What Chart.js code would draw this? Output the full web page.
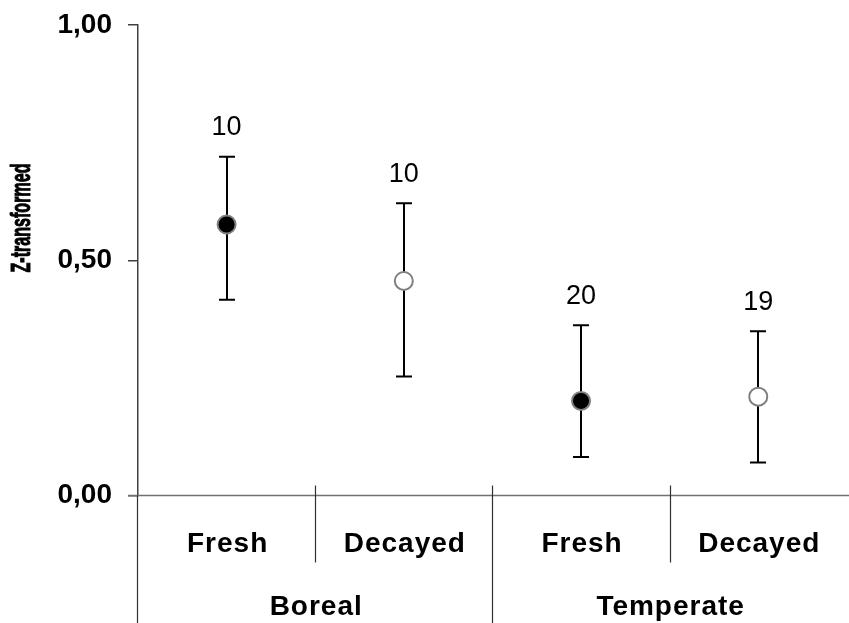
<!DOCTYPE html>
<html>
<head>
<meta charset="utf-8">
<script src="https://cdn.jsdelivr.net/npm/chart.js@4"></script>
<style>
  body { margin: 0; background: #fff; }
  #wrap { width: 849px; height: 623px; }
</style>
</head>
<body>
<div id="wrap"><canvas id="chart"></canvas></div>
<script>
// data
const categories = ["Fresh", "Decayed", "Fresh", "Decayed"];
const groups = ["Boreal", "Temperate"];
const means = [0.576, 0.456, 0.201, 0.210];
const upper = [0.720, 0.621, 0.362, 0.349];
const lower = [0.416, 0.253, 0.082, 0.070];
const nValues = [10, 10, 20, 19];
const yTicks = [0, 0.5, 1];
const yTitle = "Z-transformed";

const FONT = "'Liberation Sans', Arial, sans-serif";
const fills = ["#000000", "#ffffff", "#000000", "#ffffff"];

// error bars + labels + category axis drawn by hand
const extras = {
  id: "extras",
  afterDatasetsDraw(chart) {
    const ctx = chart.ctx;
    const xs = chart.scales.x, ys = chart.scales.y;
    const y0 = ys.getPixelForValue(0);
    const H = chart.height, W = chart.width;
    ctx.save();

    // zero line
    ctx.strokeStyle = "#707070";
    ctx.lineWidth = 1.5;
    ctx.beginPath();
    ctx.moveTo(xs.getPixelForValue(-0.5) - 10, y0);
    ctx.lineTo(W, y0);
    ctx.stroke();

    // separators
    ctx.strokeStyle = "#303030";
    ctx.lineWidth = 1.2;
    [0.5, 2.5].forEach(v => {
      const x = Math.round(xs.getPixelForValue(v)) + 0.5;
      ctx.beginPath(); ctx.moveTo(x, y0 - 10); ctx.lineTo(x, y0 + 67); ctx.stroke();
    });
    let xg = Math.round(xs.getPixelForValue(1.5)) + 0.5;
    ctx.beginPath(); ctx.moveTo(xg, y0 - 10); ctx.lineTo(xg, H); ctx.stroke();
    let xa = Math.round(xs.getPixelForValue(-0.5)) - 0.5;
    ctx.beginPath(); ctx.moveTo(xa, y0); ctx.lineTo(xa, H); ctx.stroke();

    // category labels
    ctx.fillStyle = "#000";
    ctx.textAlign = "center";
    ctx.textBaseline = "middle";
    ctx.font = "bold 28px " + FONT;
    ctx.letterSpacing = "1px";
    categories.forEach((c, i) => {
      ctx.fillText(c, xs.getPixelForValue(i) + 1, y0 + 49);
    });
    groups.forEach((g, i) => {
      ctx.fillText(g, xs.getPixelForValue(i * 2 + 0.5) + 1, y0 + 112);
    });

    // n labels
    ctx.font = "27px " + FONT;
    ctx.letterSpacing = "0px";
    nValues.forEach((n, i) => {
      ctx.fillText(String(n), xs.getPixelForValue(i), ys.getPixelForValue(upper[i]) - 29);
    });

    // y title, condensed along its length
    ctx.translate(22, 218);
    ctx.rotate(-Math.PI / 2);
    ctx.scale(0.575, 1);
    ctx.font = "bold 28px " + FONT;
    ctx.fillText(yTitle, 0, 0);
    ctx.strokeStyle = "#000";
    ctx.lineWidth = 1;
    ctx.strokeText(yTitle, 0, 0);
    ctx.restore();
  },
  beforeDatasetsDraw(chart) {
    const ctx = chart.ctx;
    const xs = chart.scales.x, ys = chart.scales.y;
    ctx.save();
    ctx.strokeStyle = "#000";
    ctx.lineWidth = 2;
    means.forEach((m, i) => {
      const x = Math.round(xs.getPixelForValue(i));
      const yt = ys.getPixelForValue(upper[i]);
      const yb = ys.getPixelForValue(lower[i]);
      ctx.beginPath();
      ctx.moveTo(x, yt); ctx.lineTo(x, yb);
      ctx.moveTo(x - 8, yt); ctx.lineTo(x + 8, yt);
      ctx.moveTo(x - 8, yb); ctx.lineTo(x + 8, yb);
      ctx.stroke();
    });
    ctx.restore();
  }
};

new Chart(document.getElementById("chart"), {
  type: "scatter",
  data: {
    datasets: [{
      data: means.map((m, i) => ({ x: i, y: m })),
      pointRadius: 9,
      pointHoverRadius: 9,
      pointBackgroundColor: fills,
      pointBorderColor: "#808080",
      pointBorderWidth: 2
    }]
  },
  options: {
    responsive: true,
    maintainAspectRatio: false,
    animation: false,
    events: [],
    layout: { padding: { top: 25, bottom: 127.5, left: 0, right: 0 } },
    plugins: { legend: { display: false }, tooltip: { enabled: false } },
    scales: {
      x: { type: "linear", min: -0.5, max: 3.45, display: false },
      y: {
        min: 0, max: 1,
        afterBuildTicks: s => { s.ticks = yTicks.map(v => ({ value: v })); },
        afterFit: s => { s.width = 138; s.paddingTop = 0; s.paddingBottom = 0; },
        border: { display: true, color: "#404040", width: 1.5 },
        grid: { drawOnChartArea: false, drawTicks: true, tickLength: 10, color: "#404040", lineWidth: 1.5 },
        ticks: {
          padding: 16,
          color: "#000",
          font: { family: FONT, size: 28, weight: "bold" },
          callback: v => v.toFixed(2).replace(".", ",")
        }
      }
    }
  },
  plugins: [extras]
});
</script>
</body>
</html>
